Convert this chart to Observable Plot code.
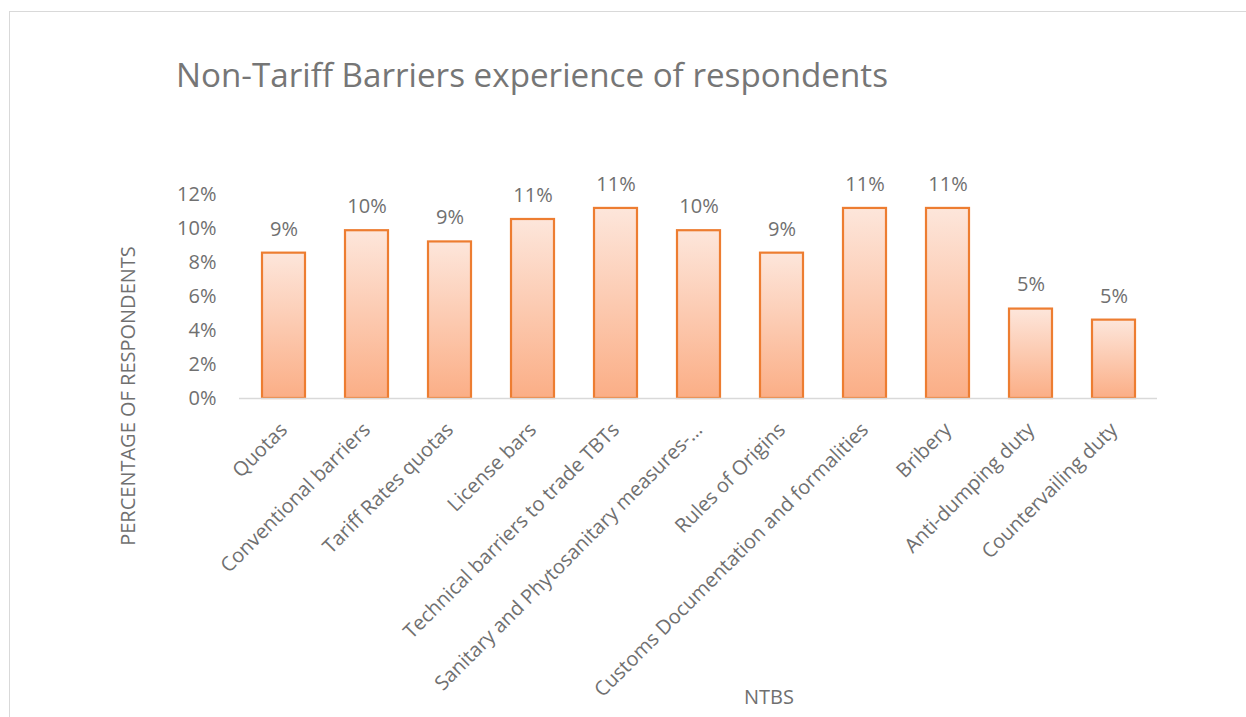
<!DOCTYPE html>
<html>
<head>
<meta charset="utf-8">
<script src="https://cdn.jsdelivr.net/npm/d3@7"></script>
<script src="https://cdn.jsdelivr.net/npm/@observablehq/plot@0.6"></script>
<style>
html, body { margin: 0; padding: 0; background: #ffffff; }
#wrap { position: relative; width: 1246px; height: 717px; overflow: hidden; font-family: "Open Sans", sans-serif; color: #707070; }
#frame { position: absolute; left: 9px; top: 11px; width: 1300px; height: 800px; border: 1px solid #d9d9d9; box-sizing: border-box; }
#title { position: absolute; left: 176px; top: 57.5px; font-size: 33.2px; line-height: 34px; color: #767676; white-space: nowrap; }
#ytitle { position: absolute; left: 128px; top: 396px; font-size: 20px; line-height: 20px; white-space: nowrap; transform: translate(-50%, -50%) rotate(-90deg); }
#xtitle { position: absolute; left: 769px; top: 687px; font-size: 20px; line-height: 20px; white-space: nowrap; transform: translateX(-50%); }
#chart { position: absolute; left: 0; top: 0; }
</style>
</head>
<body>
<div id="wrap">
  <div id="frame"></div>
  <div id="chart"></div>
  <div id="title">Non-Tariff Barriers experience of respondents</div>
  <div id="ytitle">PERCENTAGE OF RESPONDENTS</div>
  <div id="xtitle">NTBS</div>
</div>
<script>
const categories = [
  "Quotas",
  "Conventional barriers",
  "Tariff Rates quotas",
  "License bars",
  "Technical barriers to trade TBTs",
  "Sanitary and Phytosanitary measures-…",
  "Rules of Origins",
  "Customs Documentation and formalities",
  "Bribery",
  "Anti-dumping duty",
  "Countervailing duty"
];
const values = [8.55, 9.87, 9.21, 10.53, 11.18, 9.87, 8.55, 11.18, 11.18, 5.26, 4.61];
const valueLabels = ["9%", "10%", "9%", "11%", "11%", "10%", "9%", "11%", "11%", "5%", "5%"];
const yTicks = [0, 2, 4, 6, 8, 10, 12];

const data = categories.map((c, i) => ({cat: c, v: values[i], label: valueLabels[i]}));

function gradientDefs() {
  const ns = "http://www.w3.org/2000/svg";
  const g = document.createElementNS(ns, "g");
  const defs = document.createElementNS(ns, "defs");
  const lg = document.createElementNS(ns, "linearGradient");
  lg.setAttribute("id", "barGrad");
  lg.setAttribute("x1", "0"); lg.setAttribute("y1", "0");
  lg.setAttribute("x2", "0"); lg.setAttribute("y2", "1");
  const s1 = document.createElementNS(ns, "stop");
  s1.setAttribute("offset", "0"); s1.setAttribute("stop-color", "#fde6db");
  const s2 = document.createElementNS(ns, "stop");
  s2.setAttribute("offset", "1"); s2.setAttribute("stop-color", "#fbae86");
  lg.appendChild(s1); lg.appendChild(s2);
  defs.appendChild(lg);
  g.appendChild(defs);
  return g;
}

const chart = Plot.plot({
  width: 1246,
  height: 717,
  marginLeft: 239,
  marginRight: 89,
  marginTop: 194,
  marginBottom: 319,
  style: {fontFamily: "'Open Sans', sans-serif", fontSize: "20px", color: "#707070", background: "transparent", overflow: "visible"},
  x: {domain: categories, paddingInner: 0.485, paddingOuter: 0.2425, label: null},
  y: {domain: [0, 12], label: null},
  marks: [
    gradientDefs,
    Plot.barY(data, {x: "cat", y: "v", fill: "url(#barGrad)", stroke: "#ed7d31", strokeWidth: 2.2,
      style: {filter: "drop-shadow(1px 1px 1.5px rgba(0,0,0,0.18))"}}),
    Plot.ruleY([0], {stroke: "#d9d9d9", strokeWidth: 1.5}),
    Plot.axisY({ticks: yTicks, tickFormat: d => d + "%", tickSize: 0, tickPadding: 23, label: null, fontSize: 20, fill: "#707070"}),
    Plot.axisX({tickRotate: -45, tickSize: 0, tickPadding: 28, label: null, fontSize: 20, fill: "#707070"}),
    Plot.text(data, {x: "cat", y: "v", text: "label", dy: -24, fontSize: 20, fill: "#707070"})
  ]
});
document.getElementById("chart").appendChild(chart);
</script>
</body>
</html>
